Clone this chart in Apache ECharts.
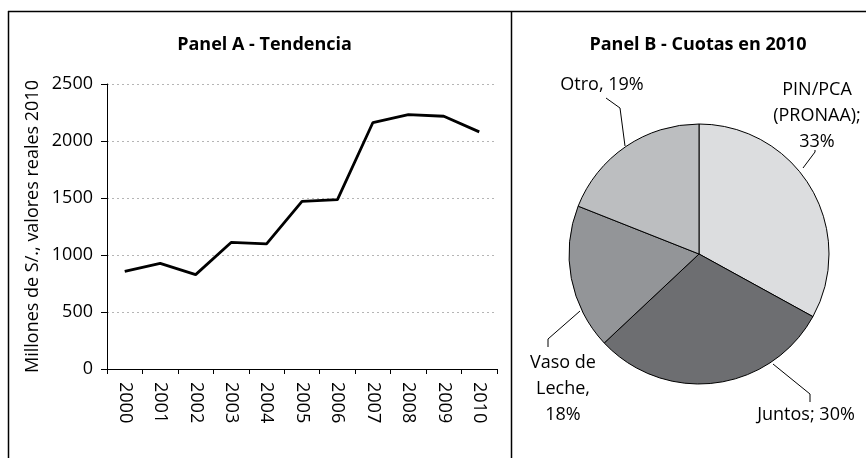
<!DOCTYPE html>
<html>
<head>
<meta charset="utf-8">
<script src="https://cdn.jsdelivr.net/npm/echarts@6/dist/echarts.min.js"></script>
<style>
  html, body { margin:0; padding:0; background:#fff; }
  #chart { width:866px; height:458px; }
</style>
</head>
<body>
<div id="chart"></div>
<script>
// Panel A - trend
const years = ['2000','2001','2002','2003','2004','2005','2006','2007','2008','2009','2010'];
const spending = [857, 927, 828, 1110, 1098, 1471, 1486, 2162, 2232, 2217, 2080];
const yTicks = { min:0, max:2500, interval:500 };

// Panel B - shares 2010
const shareNames = ['PIN/PCA (PRONAA)', 'Juntos', 'Vaso de Leche', 'Otro'];
const shareValues = [33, 30, 18, 19];
const shareLabels = ['PIN/PCA\n(PRONAA);\n33%', 'Juntos; 30%', 'Vaso de\nLeche,\n18%', 'Otro, 19%'];
const shareColors = ['#dcdddf', '#6d6e71', '#939598', '#bcbec0'];

// where the pie labels and their leader lines sit (pixels)
const labelPos = [[817, 116], [806, 415], [563, 389], [602, 85]];
const leaderPts = [
  [[803, 168], [815, 152], [815, 150]],
  [[773, 364], [810, 394], [810, 402]],
  [[580, 311], [548, 339], [548, 347]],
  [[625, 146], [620, 108], [606, 98]]
];

const FONT = '"Open Sans", sans-serif';
const INK = '#000';

const chart = echarts.init(document.getElementById('chart'), null, { renderer:'canvas' });

chart.setOption({
  backgroundColor:'#ffffff',
  animation:false,
  textStyle:{ fontFamily:FONT, color:INK },
  title: [
    { text:'Panel A - Tendencia', left:259.5, top:31, textAlign:'center',
      textStyle:{ fontFamily:FONT, fontSize:18, fontWeight:'bold', color:INK } },
    { text:'Panel B - Cuotas en 2010', left:693, top:31, textAlign:'center',
      textStyle:{ fontFamily:FONT, fontSize:18, fontWeight:'bold', color:INK } }
  ],
  graphic: [
    { type:'line', shape:{ x1:8.5, y1:11, x2:8.5, y2:458 }, style:{ stroke:'#000', lineWidth:1.5 } },
    { type:'line', shape:{ x1:8, y1:11.5, x2:866, y2:11.5 }, style:{ stroke:'#000', lineWidth:1.5 } },
    { type:'line', shape:{ x1:511.5, y1:11, x2:511.5, y2:458 }, style:{ stroke:'#000', lineWidth:1.5 } }
  ],
  grid: { left:107, right:369, top:84, bottom:89 },
  xAxis: {
    type:'category', data:years, boundaryGap:true,
    axisLine:{ lineStyle:{ color:'#000', width:1 } },
    axisTick:{ show:true, interval:0, length:5, lineStyle:{ color:'#000' } },
    axisLabel:{ rotate:-90, interval:0, margin:13, fontFamily:FONT, fontSize:18, color:INK },
    splitLine:{ show:false }
  },
  yAxis: {
    type:'value', min:yTicks.min, max:yTicks.max, interval:yTicks.interval,
    name:'Millones de S/., valores reales 2010', nameLocation:'middle', nameGap:65,
    nameTextStyle:{ fontFamily:FONT, fontSize:18, color:INK },
    axisLine:{ show:true, lineStyle:{ color:'#000', width:1 } },
    axisTick:{ show:true, length:6, lineStyle:{ color:'#000' } },
    axisLabel:{ margin:14, fontFamily:FONT, fontSize:18, color:INK, formatter: v => String(v) },
    splitLine:{ show:true, lineStyle:{ color:'#b5b5b5', type:[2,3], width:1 } }
  },
  series: [
    { type:'line', name:'Tendencia', data:spending, showSymbol:false, smooth:false,
      lineStyle:{ color:'#000', width:2.8 }, z:3 },
    { type:'pie', name:'Cuotas 2010', center:[699, 254], radius:130,
      startAngle:90, clockwise:true,
      data: shareNames.map((n, i) => ({ name:n, value:shareValues[i], itemStyle:{ color:shareColors[i] } })),
      itemStyle:{ borderColor:'#000', borderWidth:1 },
      label:{ show:true, position:'outside', formatter: p => shareLabels[p.dataIndex],
        fontFamily:FONT, fontSize:18, color:INK, lineHeight:26, align:'center', overflow:'none' },
      labelLine:{ show:true, length:12, length2:14, lineStyle:{ color:'#000', width:1 } },
      labelLayout: p => ({ x:labelPos[p.dataIndex][0], y:labelPos[p.dataIndex][1],
        align:'center', verticalAlign:'middle', labelLinePoints:leaderPts[p.dataIndex] }),
      emphasis:{ disabled:true }
    }
  ]
});
</script>
</body>
</html>
